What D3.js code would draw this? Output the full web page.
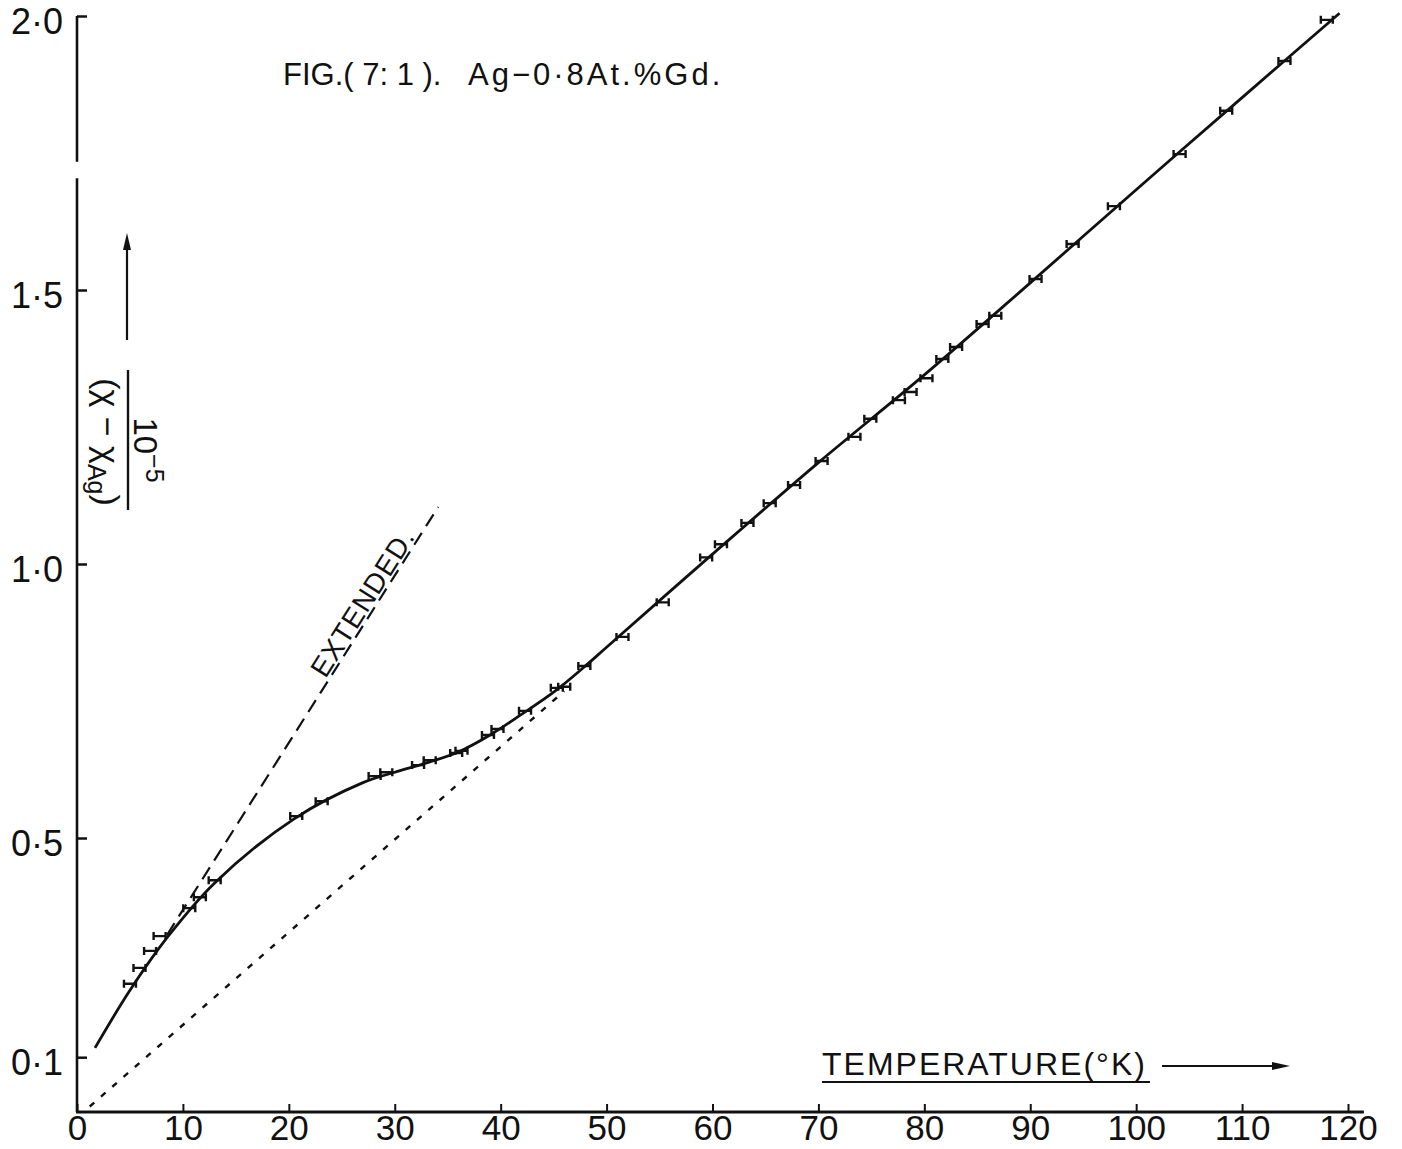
<!DOCTYPE html>
<html>
<head>
<meta charset="utf-8">
<script src="https://cdn.jsdelivr.net/npm/d3@7"></script>
<style>
  html, body { margin: 0; padding: 0; background: #fff; }
  svg { display: block; }
</style>
</head>
<body>
<svg id="chart" width="1402" height="1149"></svg>
<script>
// Measured points: temperature (°K) and (χ − χAg)/10⁻⁵
const markerT   = [5.0, 5.9, 6.9, 7.8, 10.6, 11.6, 13.0,
                   20.7, 23.1, 28.1, 29.2, 32.2, 33.3, 35.8, 36.3,
                   38.8, 39.7, 42.3, 45.3, 46.0, 47.9, 51.5, 55.3,
                   59.4, 60.8, 63.3, 65.4, 67.7, 70.3, 73.4, 74.9,
                   77.6, 78.7, 80.2, 81.7, 83.0, 85.5, 86.7, 90.5,
                   94.0, 97.9, 104.1, 108.5, 114.0, 118.0];
const markerChi = [0.234, 0.263, 0.294, 0.321, 0.372, 0.392, 0.423,
                   0.540, 0.567, 0.613, 0.620, 0.633, 0.642, 0.655, 0.659,
                   0.688, 0.699, 0.732, 0.774, 0.776, 0.814, 0.867, 0.930,
                   1.012, 1.036, 1.075, 1.111, 1.144, 1.188, 1.232, 1.265,
                   1.299, 1.314, 1.339, 1.374, 1.396, 1.438, 1.453, 1.520,
                   1.584, 1.653, 1.748, 1.827, 1.918, 1.993];

// Smooth curve drawn through the measurements
const curveT   = [1.7, 5, 8.5, 13, 20.5, 27, 30, 33, 36, 39,
                  42, 45, 48, 50, 60, 70, 80, 90, 100, 110, 119.2];
const curveChi = [0.117, 0.222, 0.318, 0.418, 0.535, 0.601,
                  0.620, 0.637, 0.657, 0.688, 0.726, 0.766, 0.814, 0.848,
                  1.018, 1.185, 1.345, 1.513, 1.683, 1.851, 2.005];

// Low-temperature slope, extended
const extendedT   = [8.5, 34.1];
const extendedChi = [0.323, 1.104];

// High-temperature straight line, extrapolated to the origin
const linearT   = [1.2, 46.0];
const linearChi = [0.010, 0.768];

const xTicks = [0, 10, 20, 30, 40, 50, 60, 70, 80, 90, 100, 110, 120];
const yTicks = [0.1, 0.5, 1.0, 1.5, 2.0];

const INK = '#111';
const FONT = '"Liberation Sans", Arial, sans-serif';

const svg = d3.select('#chart');
svg.append('rect').attr('width', 1402).attr('height', 1149).attr('fill', '#fff');

const x = d3.scaleLinear().domain([0, 120]).range([77, 1348]);
const y = d3.scaleLinear().domain([0, 2]).range([1112, 16]);

// ---- Y axis (ticks point inward) ----
const yAxis = d3.axisLeft(y)
  .tickValues(yTicks)
  .tickSize(-10)
  .tickSizeOuter(0)
  .tickPadding(14)
  .tickFormat(d => d3.format('.1f')(d).replace('.', '·'));
const gy = svg.append('g')
  .attr('transform', `translate(${x(0)},0)`)
  .call(yAxis)
  .attr('font-family', FONT)
  .attr('font-size', 36);
gy.select('.domain').remove();
gy.selectAll('.tick line').attr('stroke', INK).attr('stroke-width', 2.5);
gy.selectAll('.tick text').attr('fill', INK).attr('dy', '0.48em');

// axis line, with the small break near the top
const gapLo = 1.704, gapHi = 1.734;
svg.append('path')
  .attr('d', `M${x(0)},${y(0)}V${y(gapLo)}M${x(0)},${y(gapHi)}V${y(2)}`)
  .attr('stroke', INK).attr('stroke-width', 2.6).attr('fill', 'none');

// ---- X axis ----
const xAxis = d3.axisBottom(x)
  .tickValues(xTicks)
  .tickSize(-8)
  .tickSizeOuter(0)
  .tickPadding(3)
  .tickFormat(d3.format('d'));
const gx = svg.append('g')
  .attr('transform', `translate(0,${y(0)})`)
  .call(xAxis)
  .attr('font-family', FONT)
  .attr('font-size', 35);
gx.select('.domain').remove();
gx.selectAll('.tick line').attr('stroke', INK).attr('stroke-width', 2);
gx.selectAll('.tick text').attr('fill', INK);
svg.append('line')
  .attr('x1', x(0) - 1).attr('x2', x(121.5))
  .attr('y1', y(0)).attr('y2', y(0))
  .attr('stroke', INK).attr('stroke-width', 3);

// ---- reference lines ----
const straight = d3.line().x(d => x(d[0])).y(d => y(d[1]));
const extendedPts = extendedT.map((t, i) => [t, extendedChi[i]]);
const linearPts = linearT.map((t, i) => [t, linearChi[i]]);

svg.append('path')
  .attr('d', straight(extendedPts))
  .attr('stroke', INK).attr('stroke-width', 2.2)
  .attr('stroke-dasharray', '14,8').attr('fill', 'none');

svg.append('path')
  .attr('d', straight(linearPts))
  .attr('stroke', INK).attr('stroke-width', 2.4)
  .attr('stroke-dasharray', '6,9').attr('fill', 'none');

// label riding on the extended line
const exSlope = (extendedChi[1] - extendedChi[0]) / (extendedT[1] - extendedT[0]);
const labelT = 23.7;
const labelChi = extendedChi[0] + (labelT - extendedT[0]) * exSlope;
const angle = Math.atan2(y(extendedChi[1]) - y(extendedChi[0]),
                         x(extendedT[1]) - x(extendedT[0])) * 180 / Math.PI;
svg.append('text')
  .attr('transform', `translate(${x(labelT)},${y(labelChi)}) rotate(${angle})`)
  .attr('dy', -3)
  .attr('font-family', FONT).attr('font-size', 28)
  .attr('letter-spacing', 1)
  .attr('fill', INK)
  .text('EXTENDED.');

// ---- smooth curve ----
const curvePts = curveT.map((t, i) => [t, curveChi[i]]);
svg.append('path')
  .attr('d', d3.line().x(d => x(d[0])).y(d => y(d[1]))
      .curve(d3.curveCatmullRom.alpha(0.5))(curvePts))
  .attr('stroke', INK).attr('stroke-width', 2.8).attr('fill', 'none');

// ---- measurement markers (short bars with end caps) ----
svg.append('g').selectAll('path')
  .data(markerT.map((t, i) => [t, markerChi[i]]))
  .join('path')
  .attr('transform', d => `translate(${x(d[0])},${y(d[1])})`)
  .attr('d', 'M-6,0H6M-6,-4V4M6,-4V4')
  .attr('stroke', INK).attr('stroke-width', 2.4).attr('fill', 'none');

// ---- title ----
const title = svg.append('text')
  .attr('y', 85)
  .attr('font-family', FONT).attr('font-size', 31)
  .attr('fill', INK);
title.append('tspan').attr('x', 283).text('FIG.( 7: 1 ).');
title.append('tspan').attr('x', 468).attr('letter-spacing', 3).text('Ag−0·8At.%Gd.');

// ---- x-axis title with arrow ----
svg.append('text')
  .attr('x', 822).attr('y', 1075)
  .attr('font-family', FONT).attr('font-size', 32)
  .attr('letter-spacing', 2)
  .attr('fill', INK)
  .text('TEMPERATURE(°K)');
svg.append('line')
  .attr('x1', 822).attr('x2', 1150).attr('y1', 1082).attr('y2', 1082)
  .attr('stroke', INK).attr('stroke-width', 2.2);
svg.append('line')
  .attr('x1', 1162).attr('x2', 1276).attr('y1', 1066).attr('y2', 1066)
  .attr('stroke', INK).attr('stroke-width', 2.2);
svg.append('path')
  .attr('d', 'M1272,1062L1290,1066L1272,1070Z')
  .attr('fill', INK);

// ---- y-axis title: rotated fraction with arrow ----
svg.append('line')
  .attr('x1', 127).attr('x2', 127).attr('y1', 340).attr('y2', 244)
  .attr('stroke', INK).attr('stroke-width', 2.2);
svg.append('path')
  .attr('d', 'M123,250L127,233L131,250Z')
  .attr('fill', INK);
svg.append('line')
  .attr('x1', 128).attr('x2', 128).attr('y1', 370).attr('y2', 510)
  .attr('stroke', INK).attr('stroke-width', 2.4);

const num = svg.append('text')
  .attr('transform', 'translate(96,442) rotate(90)')
  .attr('text-anchor', 'middle')
  .attr('font-family', FONT).attr('font-size', 34)
  .attr('fill', INK);
num.append('tspan').text('(χ − χ');
num.append('tspan').attr('dy', 8).attr('font-size', 25).text('Ag');
num.append('tspan').attr('dy', -8).text(')');

const den = svg.append('text')
  .attr('transform', 'translate(134,450) rotate(90)')
  .attr('text-anchor', 'middle')
  .attr('font-family', FONT).attr('font-size', 33)
  .attr('fill', INK);
den.append('tspan').text('10');
den.append('tspan').attr('dy', -12).attr('font-size', 25).text('−5');
</script>
</body>
</html>
